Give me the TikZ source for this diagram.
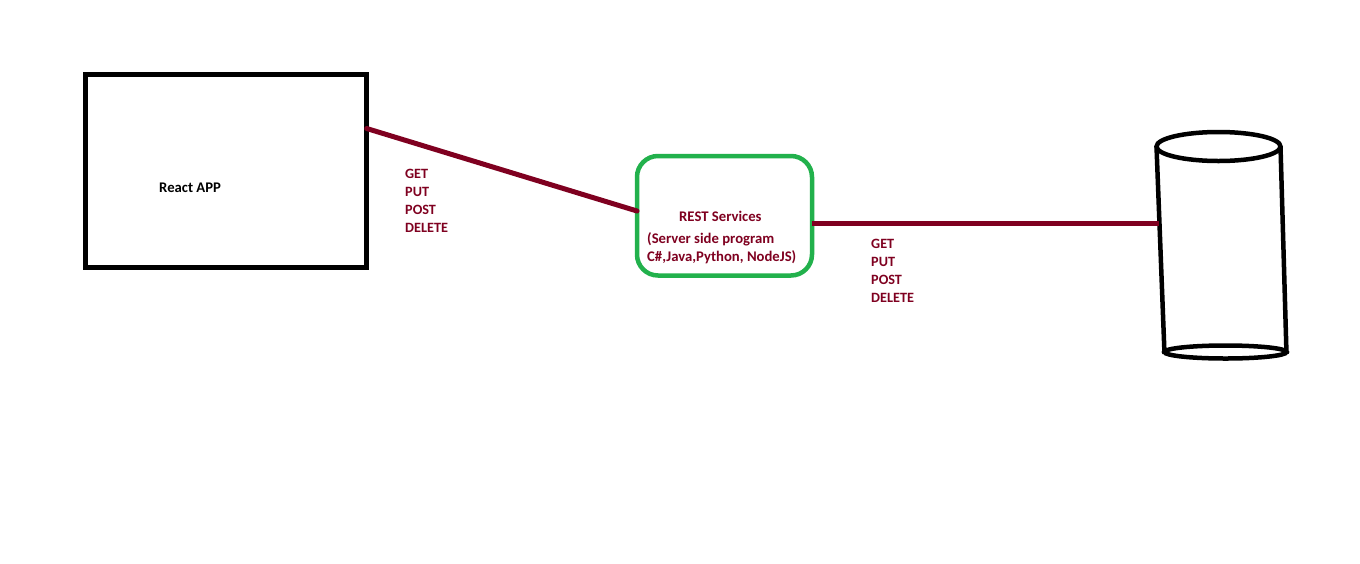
\documentclass[tikz,border=0pt]{standalone}
\usepackage{fontspec}
\usetikzlibrary{shapes.geometric}
\setmainfont{Carlito}
\definecolor{wire}{HTML}{7F0020}
\definecolor{boxgreen}{HTML}{22B14C}
\tikzset{
  lab/.style={font=\fontsize{14.2}{18}\selectfont\bfseries,inner sep=0pt,anchor=west,text=wire},
  verbs/.style={lab,align=left},
  restlab/.style={lab,align=left,font=\fontsize{14.7}{18}\selectfont\bfseries},
  wireline/.style={draw=wire,line width=5pt,line cap=round},
  inkline/.style={draw=black,line width=4.5pt},
  rim/.style={ellipse,draw=black,inner sep=0pt,outer sep=0pt,line width=4.5pt},
}
\begin{document}
\begin{tikzpicture}[x=1pt,y=-1pt]
\useasboundingbox (0,0) rectangle (1360,563);
\fill[white] (0,0) rectangle (1360,563);
% boxes
\node[draw=black,line width=4.7pt,minimum width=281.4pt,minimum height=193.4pt,inner sep=0pt,outer sep=0pt] (app) at (226,171) {};
\node[draw=boxgreen,line width=4.5pt,rounded corners=21pt,minimum width=175pt,minimum height=119.5pt,inner sep=0pt,outer sep=0pt] (rest) at (724.5,215.75) {};
% cylinder
\node[rim,minimum width=124pt,minimum height=29pt] (dbtop) at (1218.5,146.5) {};
\node[rim,minimum width=122pt,minimum height=13pt] (dbbase) at (1225.5,352) {};
\draw[inkline] (dbtop.west) -- ([yshift=-2pt]dbbase.west);
\draw[inkline] (dbtop.east) -- ([yshift=-2pt]dbbase.east);
\coordinate (dbin) at (1159,223.5);
% connectors
\draw[wireline] ([yshift=42.5pt]app.east) -- ([yshift=4.75pt]rest.west);
\draw[wireline,line cap=butt] ([yshift=-7.75pt]rest.east) -- (dbin);
% labels
\node[restlab,text=black] (applabel) at (159,188) {React APP};
\node[verbs] (verbsa) at (405,201) {GET\\PUT\\POST\\DELETE};
\node[verbs] (verbsb) at (871,271) {GET\\PUT\\POST\\DELETE};
\node[restlab] (resttitle) at (679,216) {REST Services};
\node[restlab] (restbody) at (647,248) {(Server side program\\C\#,Java,Python, NodeJS)};
\end{tikzpicture}
\end{document}
